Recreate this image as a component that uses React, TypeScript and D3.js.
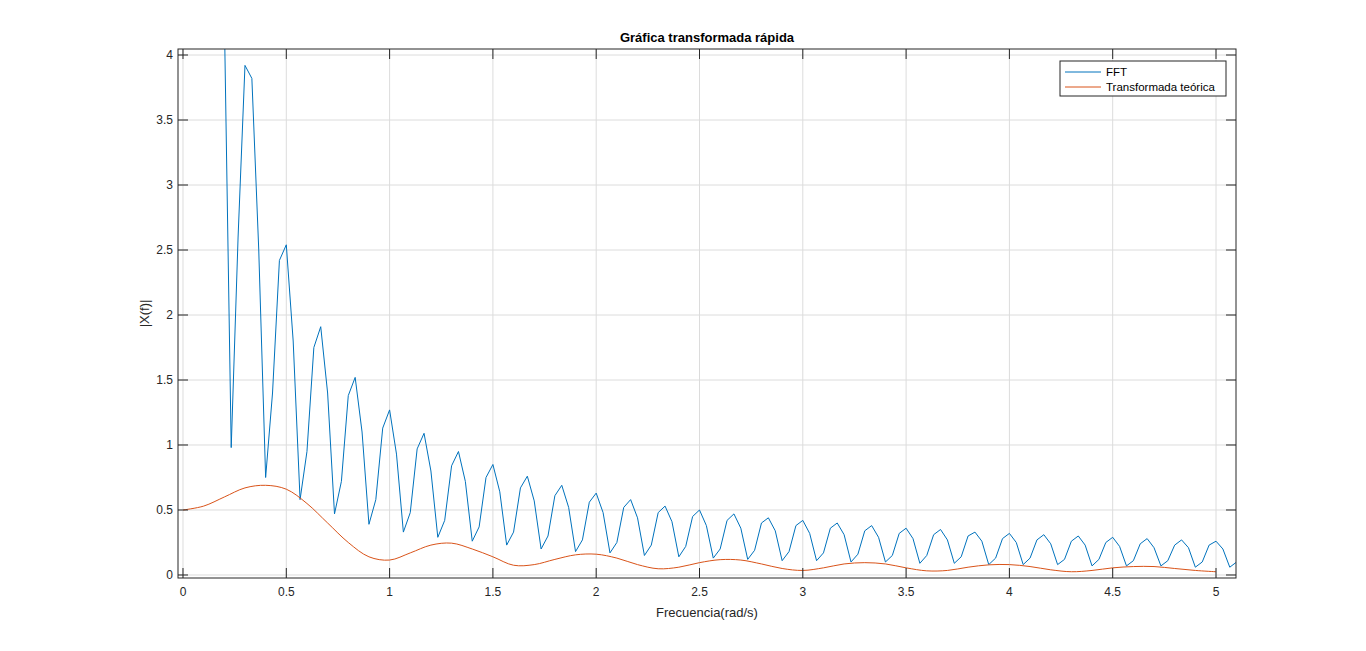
import React from "react";
import * as d3 from "d3";

const fftDx = 1 / 30;
const fftHead = [20, 15, 11, 8.5, 6.5, 5.2, 4.3];
const fftPeriods = [
  [0.98, 2.6, 3.92, 3.82, 2.5],
  [0.75, 1.4, 2.42, 2.54, 1.8],
  [0.58, 0.95, 1.75, 1.91, 1.4],
  [0.47, 0.72, 1.38, 1.52, 1.1],
  [0.39, 0.58, 1.13, 1.27, 0.93],
  [0.33, 0.48, 0.97, 1.09, 0.8],
  [0.29, 0.42, 0.84, 0.95, 0.72],
  [0.26, 0.37, 0.75, 0.85, 0.64],
  [0.23, 0.33, 0.67, 0.76, 0.57],
  [0.2, 0.3, 0.61, 0.69, 0.52],
  [0.18, 0.27, 0.56, 0.63, 0.48],
  [0.17, 0.25, 0.52, 0.58, 0.44],
  [0.15, 0.23, 0.48, 0.53, 0.41],
  [0.14, 0.22, 0.45, 0.5, 0.38],
  [0.13, 0.2, 0.42, 0.47, 0.36],
  [0.12, 0.19, 0.4, 0.44, 0.34],
  [0.11, 0.18, 0.38, 0.42, 0.32],
  [0.11, 0.17, 0.36, 0.4, 0.31],
  [0.1, 0.16, 0.34, 0.38, 0.29],
  [0.1, 0.15, 0.32, 0.36, 0.28],
  [0.09, 0.15, 0.31, 0.35, 0.27],
  [0.09, 0.14, 0.3, 0.33, 0.26],
  [0.08, 0.13, 0.28, 0.32, 0.25],
  [0.08, 0.13, 0.27, 0.31, 0.24],
  [0.08, 0.12, 0.26, 0.3, 0.23],
  [0.07, 0.12, 0.25, 0.29, 0.22],
  [0.07, 0.11, 0.24, 0.28, 0.21],
  [0.07, 0.11, 0.23, 0.27, 0.21],
  [0.06, 0.1, 0.23, 0.26, 0.2],
  [0.06, 0.1],
];
const fftValues = [...fftHead, ...fftPeriods.flat()];

const theoDx = 0.1;
const theoValues = [
  0.5, 0.53, 0.6, 0.67, 0.69, 0.66, 0.55, 0.4, 0.25, 0.14, 0.115, 0.17, 0.23, 0.245, 0.2, 0.14, 0.075,
  0.08, 0.12, 0.155, 0.16, 0.13, 0.08, 0.048, 0.06, 0.095, 0.118, 0.115, 0.085, 0.05, 0.035, 0.055,
  0.085, 0.095, 0.085, 0.055, 0.032, 0.035, 0.06, 0.078, 0.08, 0.065, 0.04, 0.025, 0.035, 0.055,
  0.065, 0.065, 0.05, 0.035, 0.025,
];
const xTicks = [0, 0.5, 1, 1.5, 2, 2.5, 3, 3.5, 4, 4.5, 5];
const yTicks = [0, 0.5, 1, 1.5, 2, 2.5, 3, 3.5, 4];

const L = 178, R = 1236, T = 49, B = 578;
const FONT = "'Liberation Sans', Arial, sans-serif";

export default function App() {
  const x = d3.scaleLinear().domain([-0.0242, 5.0968]).range([L, R]);
  const y = d3.scaleLinear().domain([-0.0231, 4.0462]).range([B, T]);
  const fftLine = d3.line<number>().x((_, i) => x(i * fftDx)).y((d) => y(d));
  const theoLine = d3
    .line<number>()
    .x((_, i) => x(i * theoDx))
    .y((d) => y(d))
    .curve(d3.curveCatmullRom);
  return (
    <svg width={1366} height={651} style={{ position: "absolute", left: 0, top: 0, background: "#fff" }} fontFamily={FONT}>
      <defs>
        <clipPath id="clip">
          <rect x={L} y={T} width={R - L} height={B - T} />
        </clipPath>
      </defs>
      <rect x={L} y={T} width={R - L} height={B - T} fill="#fff" />
      {xTicks.map((t) => (
        <line key={"gx" + t} x1={x(t)} x2={x(t)} y1={T} y2={B} stroke="#dcdcdc" />
      ))}
      {yTicks.map((t) => (
        <line key={"gy" + t} x1={L} x2={R} y1={y(t)} y2={y(t)} stroke="#dcdcdc" />
      ))}
      <g clipPath="url(#clip)" fill="none">
        <path d={fftLine(fftValues) || ""} stroke="#0072BD" strokeWidth={1} />
        <path d={theoLine(theoValues) || ""} stroke="#D95319" strokeWidth={1} />
      </g>
      <rect x={L} y={T} width={R - L} height={B - T} fill="none" stroke="#262626" />
      {xTicks.map((t) => (
        <g key={"tx" + t}>
          <line x1={x(t)} x2={x(t)} y1={B} y2={B - 10} stroke="#262626" />
          <line x1={x(t)} x2={x(t)} y1={T} y2={T + 10} stroke="#262626" />
          <text x={x(t)} y={B + 18} fontSize={12} textAnchor="middle" fill="#262626">{t}</text>
        </g>
      ))}
      {yTicks.map((t) => (
        <g key={"ty" + t}>
          <line x1={L} x2={L + 10} y1={y(t)} y2={y(t)} stroke="#262626" />
          <line x1={R} x2={R - 10} y1={y(t)} y2={y(t)} stroke="#262626" />
          <text x={L - 5} y={y(t) + 4} fontSize={12} textAnchor="end" fill="#262626">{t}</text>
        </g>
      ))}
      <text x={(L + R) / 2} y={42} fontSize={13} fontWeight="bold" textAnchor="middle" fill="#000">Gráfica transformada rápida</text>
      <text x={(L + R) / 2} y={617} fontSize={13} textAnchor="middle" fill="#262626">Frecuencia(rad/s)</text>
      <text transform={`translate(149,${(T + B) / 2}) rotate(-90)`} fontSize={13} textAnchor="middle" fill="#262626">|X(f)|</text>
      <g>
        <rect x={1060} y={61} width={166} height={35} fill="#fff" stroke="#262626" />
        <line x1={1065} x2={1101} y1={72} y2={72} stroke="#0072BD" />
        <text x={1106} y={76} fontSize={11.5} fill="#000">FFT</text>
        <line x1={1065} x2={1101} y1={87} y2={87} stroke="#D95319" />
        <text x={1106} y={91} fontSize={11.5} fill="#000">Transformada teórica</text>
      </g>
    </svg>
  );
}
